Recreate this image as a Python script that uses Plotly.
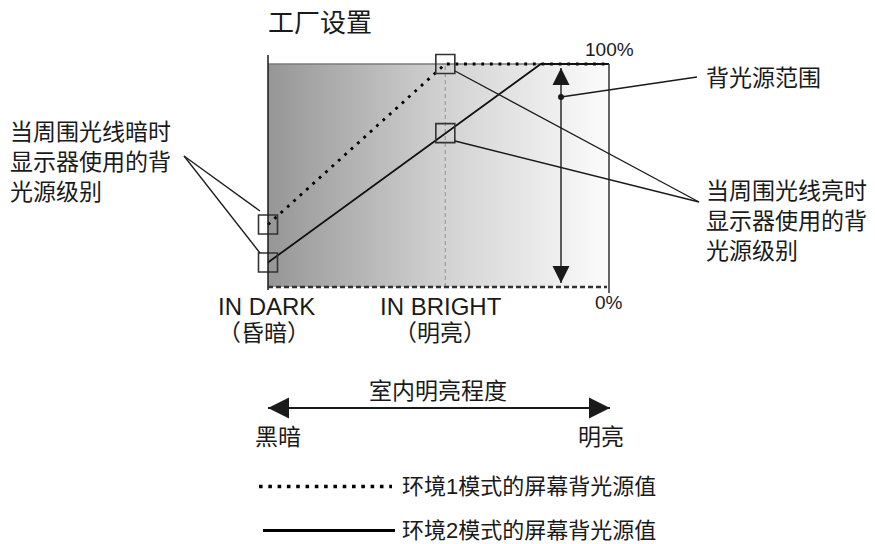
"""
Backlight level vs. room brightness diagram (factory setting)
"""

import plotly.graph_objects as go

# ambient brightness positions (0 = IN DARK, 1 = brightest), backlight level in %
AMBIENT = [0.0, 0.52, 1.0]
MODE1_LEVEL = [28, 100, 100]
MODE2_AMBIENT = [0.0, 0.52, 0.80, 1.0]
MODE2_LEVEL = [11, 69, 100, 100]
LEVEL_RANGE = [0, 100]

AMBIENT_LABELS = ["IN DARK", "IN BRIGHT"]
AMBIENT_LABELS_CN = ["（昏暗）", "（明亮）"]
LEGEND_NAMES = ["环境1模式的屏幕背光源值", "环境2模式的屏幕背光源值"]

# page geometry (px): where the 0..1 / 0..100 frame sits in the window
WIDTH, HEIGHT = 875, 544
PAGE_OFFSET = 8  # default body margin of the html page
FRAME_LEFT, FRAME_RIGHT = 268, 609
FRAME_TOP, FRAME_BOTTOM = 64, 287

X_SCALE = FRAME_RIGHT - FRAME_LEFT
Y_SCALE = (FRAME_BOTTOM - FRAME_TOP) / 100.0

FONT = "Liberation Sans, Noto Sans CJK SC, sans-serif"
INK = "#1a1a1a"


def px_x(px):
    return (px - FRAME_LEFT) / X_SCALE


def px_y(py):
    return (FRAME_BOTTOM - py) / Y_SCALE


def line_shape(x0, y0, x1, y1, color=INK, width=1.3, dash="solid"):
    return dict(type="line", xref="x", yref="y", x0=x0, y0=y0, x1=x1, y1=y1,
                line=dict(color=color, width=width, dash=dash), layer="above")


def frame_line(x, y, color, width, dash="solid"):
    return go.Scatter(x=x, y=y, mode="lines",
                      line=dict(color=color, width=width, dash=dash),
                      hoverinfo="skip", showlegend=False)


def text(x, y, s, size=23, xanchor="center", xshift=0):
    return dict(x=x, y=y, xref="x", yref="y", text=s, showarrow=False,
                xanchor=xanchor, yanchor="middle", xshift=xshift,
                font=dict(family=FONT, size=size, color=INK), align="left")


def create_backlight_diagram() -> go.Figure:
    """Create the factory-setting backlight diagram"""
    lo, hi = LEVEL_RANGE
    x_lo, x_hi = AMBIENT[0], AMBIENT[-1]

    fig = go.Figure()

    # gradient frame background
    fig.add_trace(go.Scatter(
        x=[x_lo, x_hi, x_hi, x_lo], y=[lo, lo, hi, hi],
        mode="lines", fill="toself", line=dict(width=0),
        fillgradient=dict(type="horizontal",
                          colorscale=[[0, "#969696"], [0.52, "#d2d2d2"],
                                      [1, "#fcfcfc"]]),
        hoverinfo="skip", showlegend=False))

    # frame lines that sit under the level curves
    fig.add_trace(frame_line([x_lo, x_hi], [hi, hi], "#7a7a7a", 1.5))
    fig.add_trace(frame_line([AMBIENT[1], AMBIENT[1]], [lo, hi], "#a0a0a0", 1.3,
                             "4px,3px"))

    # mode 1 (dotted) and mode 2 (solid)
    fig.add_trace(go.Scatter(
        x=AMBIENT, y=MODE1_LEVEL, mode="lines", name=LEGEND_NAMES[0],
        line=dict(color="#000", width=2.8, dash="2.8px,5.8px"), showlegend=False))
    fig.add_trace(go.Scatter(
        x=MODE2_AMBIENT, y=MODE2_LEVEL, mode="lines", name=LEGEND_NAMES[1],
        line=dict(color="#111", width=1.8), showlegend=False))

    # boxes marking dark / bright levels
    fig.add_trace(go.Scatter(
        x=AMBIENT[:2] + MODE2_AMBIENT[:2],
        y=MODE1_LEVEL[:2] + MODE2_LEVEL[:2],
        mode="markers",
        marker=dict(symbol="square-open", size=19,
                    line=dict(color="#333", width=1.6), color="#333"),
        hoverinfo="skip", showlegend=False))

    # backlight range double arrow
    arrow_x = px_x(561)
    fig.add_trace(go.Scatter(
        x=[arrow_x, arrow_x], y=[px_y(68), px_y(283)], mode="lines+markers",
        line=dict(color=INK, width=1.4),
        marker=dict(symbol=["arrow-up", "arrow-down"], size=17, color=INK,
                    line=dict(width=0)),
        hoverinfo="skip", showlegend=False))
    fig.add_trace(go.Scatter(
        x=[arrow_x], y=[px_y(97)], mode="markers",
        marker=dict(symbol="circle", size=6, color=INK),
        hoverinfo="skip", showlegend=False))

    # room brightness arrow
    fig.add_trace(go.Scatter(
        x=[x_lo, px_x(610)], y=[px_y(408)] * 2, mode="lines+markers",
        line=dict(color=INK, width=1.8),
        marker=dict(symbol=["arrow-left", "arrow-right"], size=21, color=INK,
                    line=dict(width=0)),
        hoverinfo="skip", showlegend=False))

    # legend samples
    leg_y = [px_y(486.5), px_y(530.5)]
    fig.add_trace(go.Scatter(
        x=[px_x(259), px_x(392)], y=[leg_y[0]] * 2, mode="lines",
        line=dict(color="#000", width=3.6, dash="3.6px,5.7px"),
        hoverinfo="skip", showlegend=False))
    fig.add_trace(go.Scatter(
        x=[px_x(263), px_x(395)], y=[leg_y[1]] * 2, mode="lines",
        line=dict(color="#000", width=3.2),
        hoverinfo="skip", showlegend=False))

    shapes = [
        # frame
        line_shape(x_lo, px_y(55), x_lo, px_y(290), width=1.5),
        line_shape(x_hi, hi, x_hi, px_y(293), color="#333", width=1.5),
        line_shape(x_lo, lo, px_x(607), lo, color="#333", width=2.4,
                   dash="5px,3px"),
        # callouts: dark levels
        line_shape(px_x(184), px_y(156), px_x(260), px_y(211)),
        line_shape(px_x(184), px_y(156), px_x(260), px_y(253)),
        # callouts: bright levels
        line_shape(px_x(699), px_y(202), px_x(455), px_y(71)),
        line_shape(px_x(699), px_y(202), px_x(455), px_y(141)),
        # callout: backlight range
        line_shape(arrow_x, px_y(97), px_x(697), px_y(77)),
    ]

    annotations = [
        text(x_lo, px_y(23), "工厂设置", size=26, xanchor="left", xshift=-2),
        text(x_hi, px_y(49.5), "100%", size=19),
        text(x_hi, px_y(302.5), "0%", size=19),
        text(AMBIENT[0], px_y(306.5), AMBIENT_LABELS[0], size=24, xshift=-2),
        text(AMBIENT[0], px_y(332.5), AMBIENT_LABELS_CN[0], xshift=-4),
        text(AMBIENT[1], px_y(306.5), AMBIENT_LABELS[1], size=24, xshift=-4),
        text(AMBIENT[1], px_y(332.5), AMBIENT_LABELS_CN[1], xshift=-5),
        text(px_x(437.5), px_y(391), "室内明亮程度"),
        text(px_x(277.5), px_y(437), "黑暗"),
        text(px_x(600.5), px_y(437), "明亮"),
        text(px_x(8), px_y(162), "当周围光线暗时<br>显示器使用的背<br>光源级别",
             xanchor="left"),
        text(px_x(704), px_y(220.5), "当周围光线亮时<br>显示器使用的背<br>光源级别",
             xanchor="left"),
        text(px_x(704), px_y(77.5), "背光源范围", xanchor="left"),
        text(px_x(400), leg_y[0], LEGEND_NAMES[0], size=22, xanchor="left"),
        text(px_x(400), leg_y[1], LEGEND_NAMES[1], size=22, xanchor="left"),
    ]

    fig.update_layout(
        width=WIDTH - PAGE_OFFSET, height=HEIGHT - PAGE_OFFSET,
        margin=dict(l=0, r=0, t=0, b=0),
        plot_bgcolor="white", paper_bgcolor="white",
        xaxis=dict(range=[px_x(PAGE_OFFSET), px_x(WIDTH)], visible=False,
                   fixedrange=True),
        yaxis=dict(range=[px_y(HEIGHT), px_y(PAGE_OFFSET)], visible=False,
                   fixedrange=True),
        shapes=shapes, annotations=annotations,
        font=dict(family=FONT, color=INK),
        showlegend=False,
    )

    return fig


fig = create_backlight_diagram()
fig.write_html("out.html")
